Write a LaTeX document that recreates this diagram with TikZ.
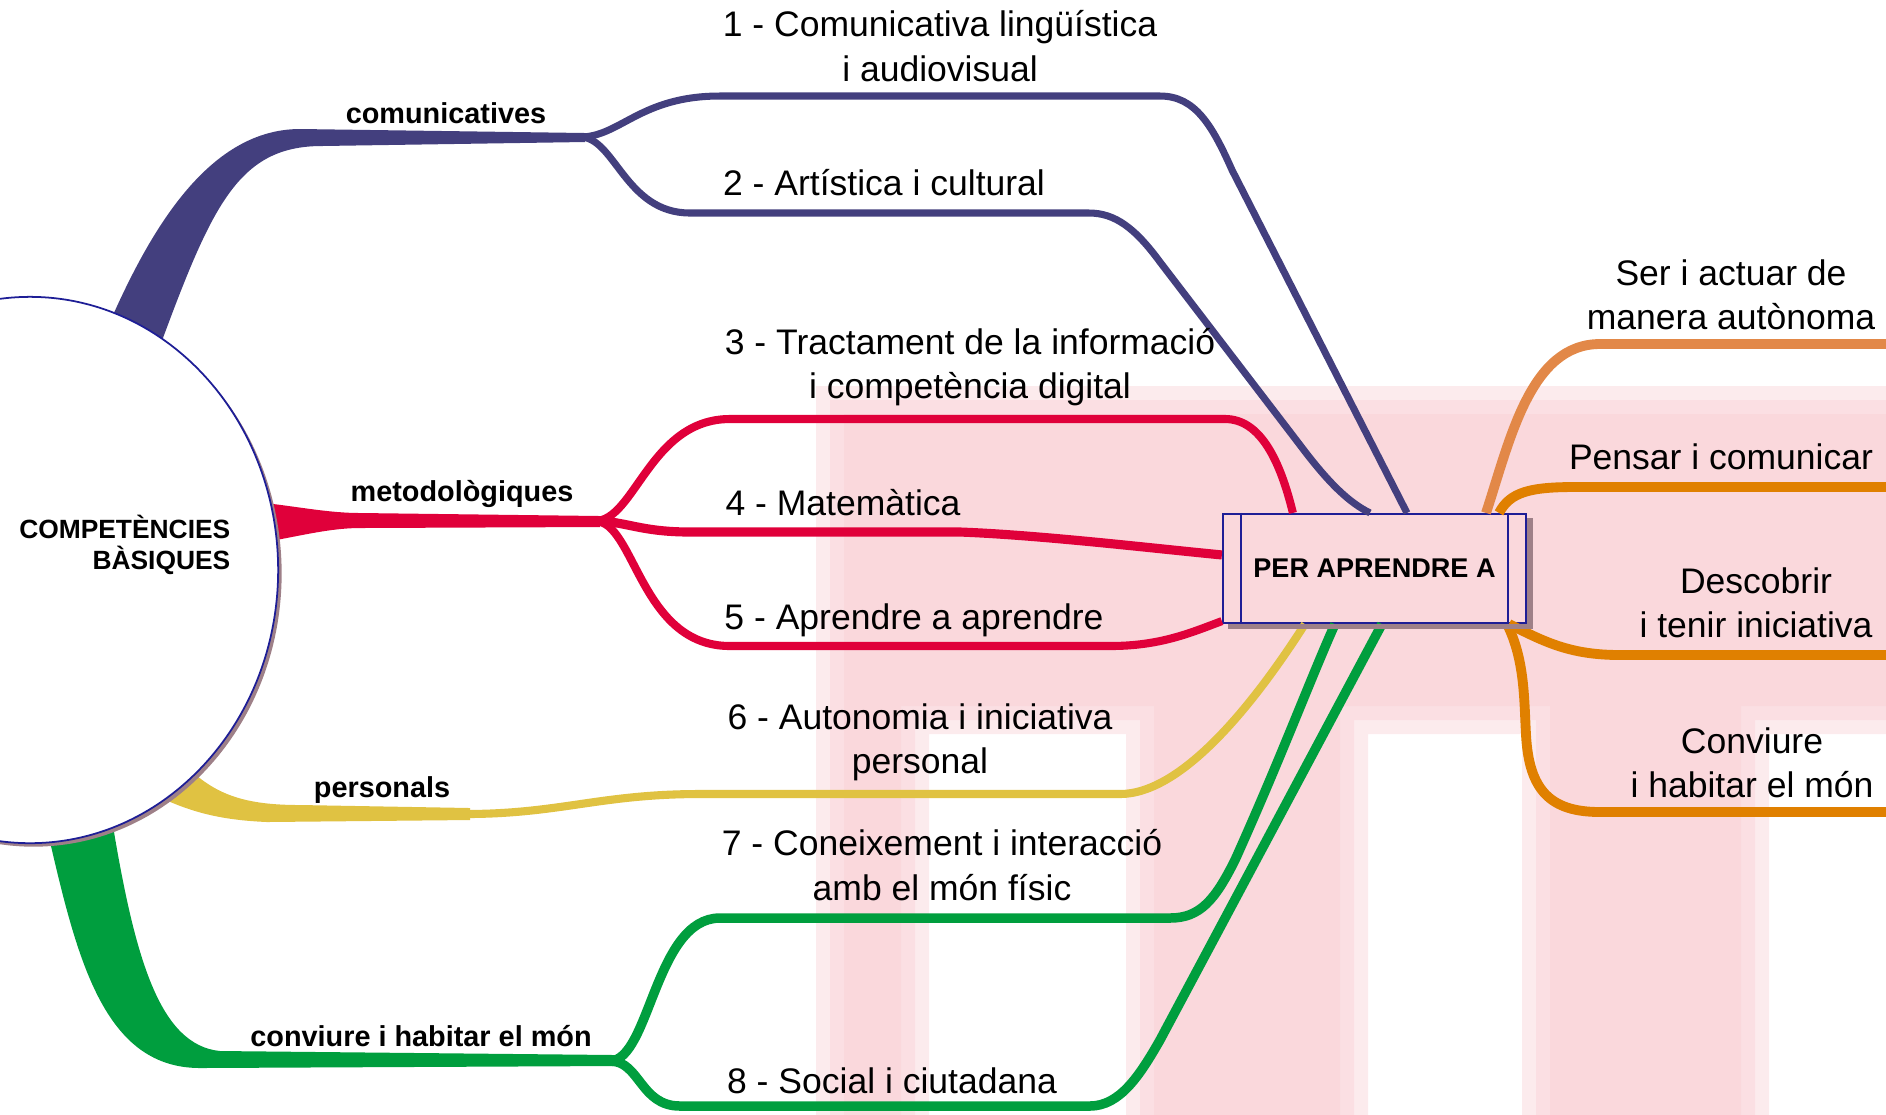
\documentclass[tikz,border=0pt]{standalone}
\usepackage{fontspec}
\setmainfont{Liberation Sans}
\usetikzlibrary{shapes.geometric,shadows}
\definecolor{bluec}{RGB}{67,63,126}
\definecolor{redc}{RGB}{224,0,58}
\definecolor{yellowc}{RGB}{224,194,66}
\definecolor{greenc}{RGB}{0,158,62}
\definecolor{orangec}{RGB}{224,128,0}
\definecolor{serc}{RGB}{226,136,72}
\definecolor{navyc}{RGB}{30,30,150}
\definecolor{shadowc}{RGB}{158,128,136}
\definecolor{pinkc}{RGB}{248,205,211}
\begin{document}
\begin{tikzpicture}[x=0.01cm, y=-0.01cm,
  lbl/.style={align=center, inner sep=0pt, font=\fontsize{10.1}{12.6}\selectfont},
  blbl/.style={inner sep=0pt, font=\bfseries\fontsize{8.2}{10}\selectfont},
  bline/.style={draw=bluec, line width=2pt},
  rline/.style={draw=redc, line width=2.3pt},
  yline/.style={draw=yellowc, line width=2.3pt},
  gline/.style={draw=greenc, line width=2.7pt},
  oline/.style={draw=orangec, line width=2.8pt},
  perbox/.style={draw=navyc, line width=0.6pt, minimum width=3.03cm, minimum height=1.09cm, inner sep=0pt, font=\bfseries\fontsize{7.7}{9}\selectfont}]
\useasboundingbox (0,0) rectangle (1886,1114);
\foreach \d in {-14,0,14}
  \fill[pinkc, fill opacity=0.4] ({830+\d},{400+\d}) -- (1890,{400+\d}) -- (1890,{720-\d}) -- ({1755-\d},{720-\d}) -- ({1755-\d},1120) -- ({1536+\d},1120) -- ({1536+\d},{720-\d}) -- ({1354-\d},{720-\d}) -- ({1354-\d},1120) -- ({1140+\d},1120) -- ({1140+\d},{720-\d}) -- ({915-\d},{720-\d}) -- ({915-\d},1120) -- ({830+\d},1120) -- cycle;

\node[perbox] (pa) at (1374.5,568.5) {PER APRENDRE A};
\coordinate (e1) at ([xshift=1.85cm]pa.north west);
\coordinate (e2) at ([xshift=1.48cm]pa.north west);
\coordinate (e3) at ([xshift=0.71cm]pa.north west);
\coordinate (e4) at ([yshift=-0.42cm]pa.north west);
\coordinate (e5) at ([yshift=0.03cm]pa.south west);
\coordinate (e6) at ([xshift=0.83cm]pa.south west);
\coordinate (e7) at ([xshift=1.13cm]pa.south west);
\coordinate (e8) at ([xshift=1.60cm]pa.south west);
\coordinate (s1) at ([xshift=2.64cm]pa.north west);
\coordinate (s2) at ([xshift=2.77cm]pa.north west);
\coordinate (s3) at ([xshift=2.87cm]pa.south west);
\coordinate (s4) at ([xshift=2.85cm]pa.south west);
\coordinate (t1) at (1886,344);
\coordinate (t2) at (1886,487);
\coordinate (t3) at (1886,655);
\coordinate (t4) at (1886,812);
\coordinate (fb) at (580,137);
\coordinate (fr) at (595,521);
\coordinate (fy) at (465,814);
\coordinate (fg) at (610,1061);

\fill[bluec] (100,345) .. controls (140,250) and (200,129) .. (300,129) -- (585,133) -- (585,142) -- (322,146) .. controls (235,146) and (210,210) .. (153,365) -- cycle;
\draw[bline] (fb) .. controls (620,137) and (640,96) .. (720,96) -- (1160,96) .. controls (1195,96) and (1212,125) .. (1232,170) -- (e1);
\draw[bline] (fb) .. controls (615,137) and (625,213) .. (690,213) -- (1089,213) .. controls (1115,213) and (1135,228) .. (1160,262) -- (1300,445) .. controls (1330,485) and (1350,503) .. (e2);

\fill[redc] (265,503) .. controls (300,507) and (330,513) .. (360,513) -- (600,516) -- (600,527) -- (360,528) .. controls (330,528) and (300,536) .. (265,542) -- cycle;
\draw[rline] (fr) .. controls (635,521) and (650,419) .. (730,419) -- (1225,419) .. controls (1260,419) and (1280,460) .. (e3);
\draw[rline, line width=2.6pt] (fr) .. controls (625,521) and (640,532) .. (690,532) -- (960,532) .. controls (1040,535) and (1150,548) .. (e4);
\draw[rline] (fr) .. controls (635,521) and (640,646) .. (730,646) -- (1110,646) .. controls (1160,646) and (1190,633) .. (e5);

\fill[yellowc] (185,765) .. controls (215,795) and (245,805) .. (300,805) -- (470,808) -- (470,820) -- (267,822) .. controls (220,820) and (190,812) .. (155,795) -- cycle;
\draw[yline] (fy) .. controls (560,814) and (600,794) .. (700,794) -- (1120,794) .. controls (1180,794) and (1250,710) .. (e6);

\fill[greenc] (45,820) .. controls (75,950) and (100,1068) .. (200,1068) -- (615,1066) -- (615,1055) -- (220,1051) .. controls (160,1045) and (135,960) .. (112,820) -- cycle;
\draw[gline] (fg) .. controls (650,1060) and (655,918) .. (720,918) -- (1170,918) .. controls (1200,918) and (1215,900) .. (1235,860) .. controls (1280,760) and (1310,680) .. (e7);
\draw[gline] (fg) .. controls (640,1061) and (640,1106) .. (680,1106) -- (1090,1106) .. controls (1120,1106) and (1140,1075) .. (1160,1040) -- (e8);

\draw[oline, draw=serc] (s1) .. controls (1510,440) and (1530,344) .. (1600,344) -- (t1);
\draw[oline] (s2) .. controls (1510,492) and (1530,487) .. (1575,487) -- (t2);
\draw[oline] (s3) .. controls (1545,642) and (1570,655) .. (1620,655) -- (t3);
\draw[oline] (s4) .. controls (1525,660) and (1524,700) .. (1526,735) .. controls (1529,790) and (1550,812) .. (1600,812) -- (t4);

\node[ellipse, draw=navyc, line width=0.5pt, fill=white, minimum width=4.96cm, minimum height=5.46cm, inner sep=0pt,
  drop shadow={shadow xshift=0.035cm, shadow yshift=-0.035cm, fill=shadowc, opacity=1}] (cb) at (30,570) {};
\node[align=right, anchor=east, inner sep=0pt, font=\bfseries\fontsize{7.5}{8.6}\selectfont] (ct) at (231,545) {COMPETÈNCIES\\BÀSIQUES};

\fill[shadowc] ([xshift=0.06cm]pa.south west) rectangle ([xshift=0.06cm,yshift=-0.05cm]pa.south east);
\fill[shadowc] ([yshift=-0.05cm]pa.north east) rectangle ([xshift=0.06cm]pa.south east);
\draw[navyc, line width=0.4pt] ([xshift=0.19cm]pa.north west) -- ([xshift=0.19cm]pa.south west);
\draw[navyc, line width=0.4pt] ([xshift=-0.19cm]pa.north east) -- ([xshift=-0.19cm]pa.south east);

\node[lbl] (l1) at (940,46) {1 - Comunicativa lingüística\\i audiovisual};
\node[lbl] (l2) at (884,183) {2 - Artística i cultural};
\node[lbl] (l3) at (970,367) {3 - Tractament de la informació\\i competència digital};
\node[lbl] (l4) at (843,503) {4 - Matemàtica};
\node[lbl] (l5) at (914,620) {5 - Aprendre a aprendre};
\node[lbl] (l6) at (920,742) {6 - Autonomia i iniciativa\\personal};
\node[lbl] (l7) at (942,865) {7 - Coneixement i interacció\\amb el món físic};
\node[lbl] (l8) at (892,1081) {8 - Social i ciutadana};
\node[lbl] (r1) at (1731,295) {Ser i actuar de\\manera autònoma};
\node[lbl] (r2) at (1721,457) {Pensar i comunicar};
\node[lbl] (r3) at (1756,603) {Descobrir\\i tenir iniciativa};
\node[lbl] (r4) at (1752,763) {Conviure\\i habitar el món};
\node[blbl] (b1) at (446,113) {comunicatives};
\node[blbl] (b2) at (462,494) {metodològiques};
\node[blbl] (b3) at (382,790) {personals};
\node[blbl] (b4) at (421,1036) {conviure i habitar el món};
\end{tikzpicture}
\end{document}
